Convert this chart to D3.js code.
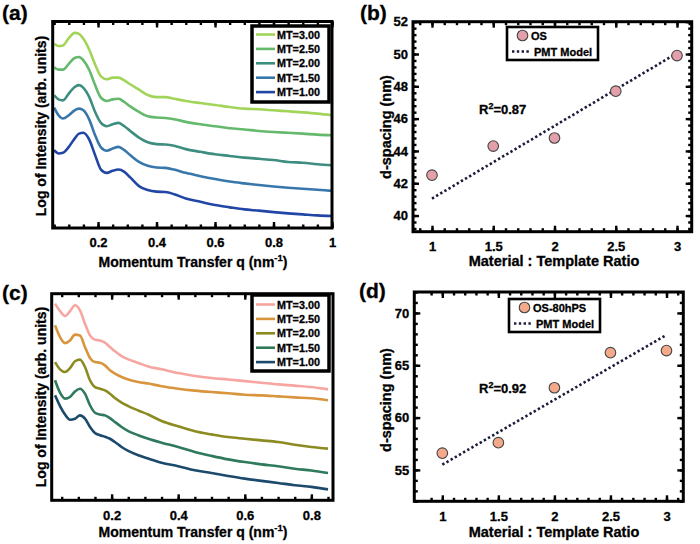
<!DOCTYPE html>
<html><head><meta charset="utf-8">
<script src="https://cdn.jsdelivr.net/npm/d3@7"></script>
<style>
html,body{margin:0;padding:0;background:#fff;}
svg{display:block;font-family:"Liberation Sans",Arial,sans-serif;font-weight:bold;}
svg text{stroke:#000;stroke-width:0.3px;}
</style></head><body>
<svg id="chart" width="700" height="544"></svg>
<script>
// ---------- DATA ----------
// Panel (a): q values and log-intensity (arb. units) per MT ratio
const qA = [0.05,0.065,0.08,0.10,0.12,0.135,0.15,0.17,0.19,0.21,0.23,0.25,0.27,0.29,0.31,0.34,0.37,0.40,0.43,0.46,0.50,0.55,0.60,0.65,0.70,0.75,0.80,0.85,0.90,0.95,1.00];
const aMT300 = [89.2,88.1,88.4,91.9,94.5,94.0,91.6,86.3,79.2,73.4,72.0,72.8,72.8,71.5,69.6,67.0,64.4,63.4,63.4,62.6,61.5,60.5,59.6,58.6,57.8,57.5,57.0,56.5,56.0,55.4,54.6];
const aMT250 = [77.9,76.7,76.7,79.5,82.3,82.8,81.2,76.5,69.2,63.1,61.5,62.3,62.6,61.0,58.9,56.2,54.1,53.5,53.3,52.7,51.4,50.2,49.3,48.3,47.7,47.0,46.5,46.1,45.7,45.2,44.9];
const aMT200 = [64.3,62.3,61.8,65.1,68.3,69.2,67.9,63.4,56.2,50.9,49.3,50.2,50.9,49.3,47.0,43.8,41.5,40.6,40.4,39.8,38.2,36.9,35.7,34.9,34.1,33.5,32.9,32.0,31.6,30.9,30.4];
const aMT150 = [58.3,54.6,53.0,54.6,57.0,57.8,57.0,52.5,44.9,39.0,37.4,38.5,39.3,37.7,35.3,32.0,30.1,29.3,29.1,28.3,26.7,25.1,23.7,22.5,21.6,20.8,20.1,19.5,19.0,18.5,18.0];
const aMT100 = [37.7,36.1,36.4,39.3,43.3,45.7,46.1,42.8,35.3,28.3,26.7,27.7,28.3,27.2,24.5,20.3,18.4,17.6,17.4,16.4,14.3,12.7,11.1,10.0,9.0,8.4,7.7,7.1,6.6,6.1,5.8];
// Panel (c)
const qC = [0.03,0.045,0.06,0.075,0.09,0.105,0.12,0.135,0.15,0.165,0.18,0.195,0.21,0.23,0.25,0.28,0.31,0.35,0.40,0.45,0.50,0.55,0.60,0.65,0.70,0.75,0.80,0.85];
const cMT300 = [95.2,91.6,89.2,91.6,94.4,91.9,85.5,79.8,77.7,77.4,76.3,74.2,72.1,69.8,68.2,66.5,64.8,63.4,61.6,60.2,59.2,58.5,57.7,56.9,56.1,55.5,54.8,53.7];
const cMT250 = [84.7,79.0,76.1,77.4,80.2,79.8,74.2,68.9,66.9,66.6,65.3,62.9,61.3,59.7,58.5,57.3,56.5,55.2,54.0,53.1,52.4,51.8,51.1,50.8,50.3,49.8,49.4,48.4];
const cMT200 = [66.9,63.4,62.1,64.0,67.3,68.1,64.5,58.1,54.8,54.0,53.2,51.6,49.5,47.3,45.6,43.5,41.5,38.4,35.8,33.4,31.9,30.6,29.8,29.0,28.2,26.9,25.8,25.0];
const cMT150 = [58.1,52.1,49.2,50.0,52.7,54.0,51.6,46.0,42.4,41.5,41.1,39.8,37.9,35.5,33.5,31.5,29.8,27.9,25.8,23.4,21.5,19.8,18.5,17.4,16.5,15.3,14.4,13.2];
const cMT100 = [50.8,45.6,41.5,39.0,39.5,41.1,39.5,35.5,32.6,31.5,30.8,29.8,28.2,25.8,23.9,21.8,20.2,18.2,16.5,14.5,13.2,11.8,10.5,9.4,8.4,7.3,6.5,5.3];
const mtLabels = ["MT=3.00","MT=2.50","MT=2.00","MT=1.50","MT=1.00"];
// Panels (b), (d): d-spacing vs Material : Template ratio
const ratio = [1,1.5,2,2.5,3];
const dOS = [42.5,44.3,44.8,47.7,49.9];
const dOS80 = [56.6,57.6,62.85,66.2,66.4];
const modelRatio = [1,3];
const modelOS = [41.05,50.05];
const modelOS80 = [55.5,67.9];
const r2B = "0.87", r2D = "0.92";
// Tick labels
const xTicksA = [0.2,0.4,0.6,0.8,1];
const xTicksC = [0.2,0.4,0.6,0.8];
const xTicksR = [1,1.5,2,2.5,3];
const yTicksB = [40,42,44,46,48,50,52];
const yTicksD = [55,60,65,70];

// ---------- STYLE ----------
const colorsA = ["#a3d45a","#64b96c","#3e8e80","#3877ab","#2146a6"];
const colorsC = ["#f6a5a0","#d8953e","#8b8b22","#2f7a5c","#1c4a6c"];
const svg = d3.select("#chart");

function frameAxes(x, y, o){
  const [x0,x1] = x.range(), [y0,y1] = y.range();
  const g = svg.append("g");
  const style = sel => { sel.select(".domain").remove(); sel.selectAll(".tick line").attr("stroke","#000").attr("stroke-width",2.4); sel.selectAll("text").attr("font-size",13).attr("font-weight","bold").attr("fill","#000").attr("font-family","Liberation Sans, Arial, sans-serif"); };
  g.append("g").attr("transform",`translate(0,${y0})`)
    .call(d3.axisBottom(x).tickValues(o.xMajor).tickSizeInner(-6).tickSizeOuter(0).tickPadding(10).tickFormat(o.xFmt)).call(style);
  g.append("g").attr("transform",`translate(0,${y0})`)
    .call(d3.axisBottom(x).tickValues(o.xMinor).tickSizeInner(-3.5).tickSizeOuter(0).tickFormat("")).call(style);
  g.append("g").attr("transform",`translate(0,${y1})`)
    .call(d3.axisTop(x).tickValues(o.xMajor).tickSizeInner(-6).tickSizeOuter(0).tickFormat("")).call(style);
  g.append("g").attr("transform",`translate(0,${y1})`)
    .call(d3.axisTop(x).tickValues(o.xMinor).tickSizeInner(-3.5).tickSizeOuter(0).tickFormat("")).call(style);
  if (o.yMajor){
    g.append("g").attr("transform",`translate(${x0},0)`)
      .call(d3.axisLeft(y).tickValues(o.yMajor).tickSizeInner(-6).tickSizeOuter(0).tickPadding(5).tickFormat(d3.format("d"))).call(style);
    g.append("g").attr("transform",`translate(${x0},0)`)
      .call(d3.axisLeft(y).tickValues(o.yMinor).tickSizeInner(-3.5).tickSizeOuter(0).tickFormat("")).call(style);
    g.append("g").attr("transform",`translate(${x1},0)`)
      .call(d3.axisRight(y).tickValues(o.yMajor).tickSizeInner(-6).tickSizeOuter(0).tickFormat("")).call(style);
    g.append("g").attr("transform",`translate(${x1},0)`)
      .call(d3.axisRight(y).tickValues(o.yMinor).tickSizeInner(-3.5).tickSizeOuter(0).tickFormat("")).call(style);
  }
  g.append("rect").attr("x",x0).attr("y",y1).attr("width",x1-x0).attr("height",y0-y1)
    .attr("fill","none").attr("stroke","#000").attr("stroke-width",3);
}

function addText(x, y, txt, size, anchor, rotate){
  const t = svg.append("text").attr("x",x).attr("y",y).attr("font-size",size)
    .attr("text-anchor",anchor||"start").attr("fill","#000").text(txt);
  if (rotate) t.attr("transform",`rotate(-90,${x},${y})`);
  return t;
}
function xTitleQ(cx, by){
  const t = svg.append("text").attr("x",cx).attr("y",by).attr("font-size",14).attr("text-anchor","middle").attr("fill","#000");
  t.append("tspan").text("Momentum Transfer q (nm");
  t.append("tspan").attr("font-size",9.5).attr("dy",-6).text("-1");
  t.append("tspan").attr("dy",6).text(")");
}

// ---------- SPECTRA PANELS ----------
function spectra(id, q, series, colors, xDom, xRange, yRange, xMajor, legendBox, legendY0){
  const x = d3.scaleLinear().domain(xDom).range(xRange);
  const y = d3.scaleLinear().domain([0,100]).range(yRange);
  svg.append("clipPath").attr("id",id).append("rect")
    .attr("x",xRange[0]).attr("y",yRange[1]).attr("width",xRange[1]-xRange[0]).attr("height",yRange[0]-yRange[1]);
  const line = d3.line().x((d,i)=>x(q[i])).y(d=>y(d)).curve(d3.curveMonotoneX);
  const gl = svg.append("g").attr("clip-path",`url(#${id})`);
  series.slice().reverse().forEach((s,k)=>{
    const i = series.length-1-k;
    gl.append("path").attr("d",line(s)).attr("fill","none").attr("stroke",colors[i])
      .attr("stroke-width",2.6).attr("stroke-linejoin","round");
  });
  frameAxes(x, y, {xMajor, xMinor:d3.range(0.05, xDom[1]+1e-6, 0.05).map(v=>+v.toFixed(2)), xFmt:d3.format("")});
  const [lx,ly,lw,lh] = legendBox;
  svg.append("rect").attr("x",lx).attr("y",ly).attr("width",lw).attr("height",lh)
    .attr("fill","#fff").attr("stroke","#000").attr("stroke-width",3.5);
  mtLabels.forEach((lab,i)=>{
    const yy = legendY0 + i*14.4;
    svg.append("line").attr("x1",lx+4).attr("x2",lx+23).attr("y1",yy).attr("y2",yy)
      .attr("stroke",colors[i]).attr("stroke-width",2.6);
    addText(lx+25, yy+4, lab, 10.8, "start");
  });
  return {x,y};
}

spectra("clipA", qA, [aMT300,aMT250,aMT200,aMT150,aMT100], colorsA, [0.045,1.0], [52.7,332], [228,21.5], xTicksA, [252,26,77,76], 34.5);
spectra("clipC", qC, [cMT300,cMT250,cMT200,cMT150,cMT100], colorsC, [0.02,0.865], [51.7,333], [500.3,293.7], xTicksC, [252,295,77,76], 304.5);

// ---------- D-SPACING PANELS ----------
function dspacing(vals, model, markerColor, xDom, xRange, yDom, yRange, yMajor, yMinorStep, legendBox, legendLabel, r2, r2pos){
  const x = d3.scaleLinear().domain(xDom).range(xRange);
  const y = d3.scaleLinear().domain(yDom).range(yRange);
  const line = d3.line().x((d,i)=>x(modelRatio[i])).y(d=>y(d));
  svg.append("path").attr("d",line(model)).attr("fill","none").attr("stroke","#1b1b3a")
    .attr("stroke-width",2.6).attr("stroke-dasharray","2.4,2.4");
  svg.append("g").selectAll("circle").data(vals).join("circle")
    .attr("cx",(d,i)=>x(ratio[i])).attr("cy",d=>y(d)).attr("r",5.3)
    .attr("fill",markerColor).attr("stroke","#444").attr("stroke-width",1.1);
  frameAxes(x, y, {xMajor:xTicksR, xMinor:d3.range(0.9,3.11,0.1).map(v=>+v.toFixed(1)), xFmt:d3.format(""),
    yMajor, yMinor:d3.range(Math.ceil(yDom[0]/yMinorStep)*yMinorStep, yDom[1]+1e-6, yMinorStep).map(v=>+v.toFixed(1))});
  const t = svg.append("text").attr("x",r2pos[0]).attr("y",r2pos[1]).attr("font-size",13).attr("fill","#000");
  t.append("tspan").text("R");
  t.append("tspan").attr("font-size",9).attr("dy",-5).text("2");
  t.append("tspan").attr("dy",5).text("="+r2);
  const [lx,ly,lw,lh] = legendBox;
  svg.append("rect").attr("x",lx).attr("y",ly).attr("width",lw).attr("height",lh)
    .attr("fill","#fff").attr("stroke","#000").attr("stroke-width",2.6);
  svg.append("circle").attr("cx",lx+15.5).attr("cy",ly+8.5).attr("r",5.3)
    .attr("fill",markerColor).attr("stroke","#444").attr("stroke-width",1.1);
  addText(lx+24, ly+12.5, legendLabel, 11, "start");
  svg.append("line").attr("x1",lx+5).attr("x2",lx+24).attr("y1",ly+24.5).attr("y2",ly+24.5)
    .attr("stroke","#1b1b3a").attr("stroke-width",2.6).attr("stroke-dasharray","2.4,2.4");
  addText(lx+27, ly+28.5, "PMT Model", 11, "start");
}

dspacing(dOS, modelOS, "#e3a0aa", [0.845,3.12], [413,691.7], [39,52], [231.7,21.7], yTicksB, 0.4,
  [507,27,91,33], "OS", r2B, [479,114]);
dspacing(dOS80, modelOS80, "#f5a98b", [0.75,3.15], [414.3,683.3], [52,72], [501.3,292], yTicksD, 1,
  [509,299,91,33], "OS-80hPS", r2D, [479,393]);

// ---------- TITLES / PANEL LABELS ----------
xTitleQ(193, 266.5);
xTitleQ(193, 537);
addText(554, 265.5, "Material : Template Ratio", 14.5, "middle");
addText(554, 537, "Material : Template Ratio", 14.5, "middle");
addText(46, 126, "Log of Intensity (arb. units)", 14, "middle", true);
addText(46, 397, "Log of Intensity (arb. units)", 14, "middle", true);
addText(391, 127, "d-spacing (nm)", 14.5, "middle", true);
addText(391, 400, "d-spacing (nm)", 14.5, "middle", true);
addText(2, 20, "(a)", 21, "start");
addText(360, 20, "(b)", 21, "start");
addText(2, 300, "(c)", 21, "start");
addText(359, 298, "(d)", 21, "start");
</script>
</body></html>
